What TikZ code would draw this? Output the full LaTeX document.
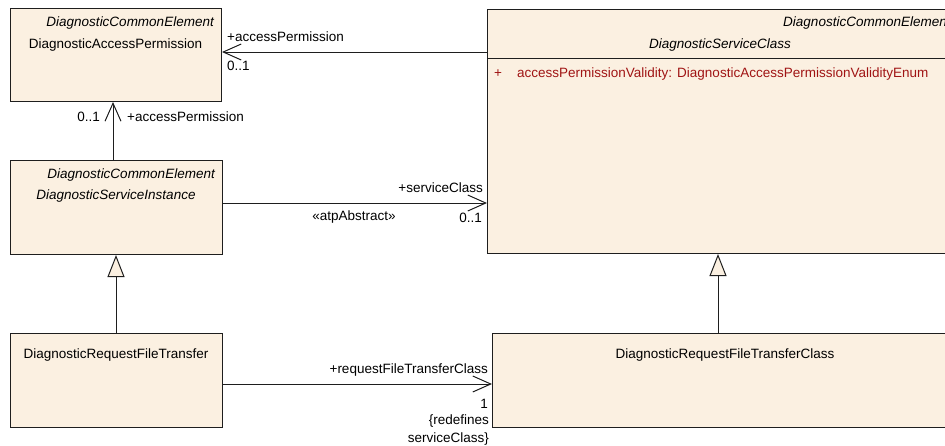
\documentclass[tikz,border=0pt]{standalone}
\usepackage{fontspec}
\setmainfont{Liberation Sans}
\usetikzlibrary{arrows.meta}
\definecolor{boxfill}{RGB}{251,240,225}
\definecolor{attrred}{RGB}{160,20,20}
\definecolor{linec}{RGB}{30,30,30}
\begin{document}
\begin{tikzpicture}[x=1pt,y=-1pt,
  box/.style={draw=linec, fill=boxfill, line width=1pt, inner sep=0pt, anchor=north west},
  lbl/.style={inner sep=0pt, font=\fontsize{13.5}{16}\selectfont},
  ilbl/.style={lbl, font=\fontsize{13.5}{16}\selectfont\itshape},
  assoc/.style={draw=linec, line width=1pt, -{Straight Barb[length=18pt,width=16pt,line width=1pt]}},
  gen/.style={draw=linec, line width=1pt, -{Triangle[length=22pt,width=17pt,fill=boxfill,line width=1pt]}}
]
\useasboundingbox (0,0) rectangle (945,445);
\clip (0,0) rectangle (945,445);

% boxes
\node[box, minimum width=211pt, minimum height=93pt] (A) at (10,8) {};
\node[box, minimum width=466pt, minimum height=244pt] (S) at (487,9) {};
\node[box, minimum width=212pt, minimum height=94pt] (I) at (10,160) {};
\node[box, minimum width=212pt, minimum height=94pt] (R) at (10,333) {};
\node[box, minimum width=466pt, minimum height=94pt] (RC) at (492,333) {};
\draw[draw=linec, line width=1pt] (S.west |- 0,58) coordinate (sdl) -- (S.east |- 0,58) coordinate (sdr);

% texts in boxes
\node[ilbl, anchor=base east] (Ast) at (214,26) {DiagnosticCommonElement};
\node[lbl, anchor=base] (Aname) at (115.5,48) {DiagnosticAccessPermission};
\node[ilbl, anchor=base east] (Sst) at (947,26) {DiagnosticCommonElemen};
\node[ilbl, anchor=base] (Sname) at (720,48) {DiagnosticServiceClass};
\node[lbl, anchor=base west, text=attrred] (Splus) at (494,77) {+};
\node[lbl, anchor=base west, text=attrred] (Sattr) at (517,77) {accessPermissionValidity: DiagnosticAccessPermissionValidityEnum};
\node[ilbl, anchor=base east] (Ist) at (215,178) {DiagnosticCommonElement};
\node[ilbl, anchor=base] (Iname) at (116,199) {DiagnosticServiceInstance};
\node[lbl, anchor=base] (Rname) at (116,358) {DiagnosticRequestFileTransfer};
\node[lbl, anchor=base] (RCname) at (725,358) {DiagnosticRequestFileTransferClass};

% helper coordinates
\coordinate (yAS) at (0,52);
\coordinate (yIS) at (0,203);
\coordinate (yRR) at (0,384);
\coordinate (xAI) at (113,0);
\coordinate (xIR) at (116,0);
\coordinate (xSR) at (718,0);

% connectors
\draw[assoc] (S.west |- yAS) -- (A.east |- yAS);
\draw[assoc] (I.north -| xAI) -- (A.south -| xAI);
\draw[assoc] (I.east |- yIS) -- (S.west |- yIS);
\draw[assoc] (R.east |- yRR) -- (RC.west |- yRR);
\draw[gen] (R.north -| xIR) -- (I.south -| xIR);
\draw[gen] (RC.north -| xSR) -- (S.south -| xSR);

% connector labels
\node[lbl, anchor=base west] (l1) at (227,41) {+accessPermission};
\node[lbl, anchor=base west] (l2) at (227,70) {0..1};
\node[lbl, anchor=base east] (l3) at (100,121) {0..1};
\node[lbl, anchor=base west] (l4) at (127,121) {+accessPermission};
\node[lbl, anchor=base east] (l5) at (483,192) {+serviceClass};
\node[lbl, anchor=base] (l6) at (354,220) {«atpAbstract»};
\node[lbl, anchor=base east] (l7) at (482,222) {0..1};
\node[lbl, anchor=base east] (l8) at (488,373) {+requestFileTransferClass};
\node[lbl, anchor=base east] (l9) at (488,408) {1};
\node[lbl, anchor=base east] (l10) at (489,424) {\{redefines};
\node[lbl, anchor=base east] (l11) at (489,442) {serviceClass\}};
\end{tikzpicture}
\end{document}
